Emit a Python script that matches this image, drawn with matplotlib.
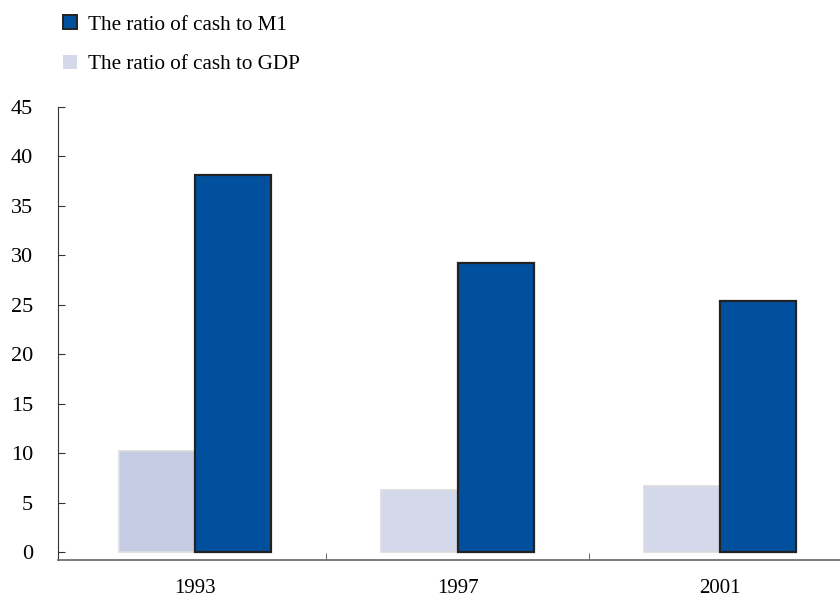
import matplotlib
matplotlib.use("Agg")
import matplotlib.pyplot as plt
from matplotlib.patches import Patch
import numpy as np

years = ["1993", "1997", "2001"]
cash_to_gdp = [10.2, 6.3, 6.7]
cash_to_m1 = [38.1, 29.2, 25.4]
gdp_colors = ["#c6cbe4", "#d3d8eb", "#d3d8eb"]
m1_color = "#00509e"

plt.rcParams['font.family'] = ['Liberation Serif', 'DejaVu Serif']

fig = plt.figure(figsize=(8.4, 5.97), dpi=100)
ax = fig.add_axes([58/840, 1-560/597, 1-58/840, (560-107)/597])

x = np.arange(len(years))
w = 0.29
ax.bar(x - w/2, cash_to_gdp, width=w, color=gdp_colors, edgecolor="#dcdcdc", linewidth=1.2, zorder=2)
ax.bar(x + w/2, cash_to_m1, width=w, color=m1_color, edgecolor="#222222", linewidth=1.6, zorder=3)

ax.set_xlim(-0.522, 2.457)
ax.set_ylim(-0.8, 45)
ax.set_yticks(np.arange(0, 46, 5))
ax.set_xticks(x)
ax.set_xticklabels(years)
ax.set_xticks([0.5, 1.5], minor=True)
ax.tick_params(axis='x', which='major', length=0, pad=14, labelsize=15)
ax.tick_params(axis='x', which='minor', direction='in', length=5, color="#555555")
ax.tick_params(axis='y', direction='in', length=5, color="#333333", pad=18, labelsize=16)

for s in ['top', 'right']:
    ax.spines[s].set_visible(False)
ax.spines['left'].set_color("#333333")
ax.spines['bottom'].set_color("#666666")
ax.spines['bottom'].set_linewidth(1.2)

handles = [Patch(facecolor=m1_color, edgecolor="#222222", linewidth=1.4, label="The ratio of cash to M1"),
           Patch(facecolor="#d3d8eb", edgecolor="none", label="The ratio of cash to GDP")]
fig.legend(handles=handles, loc='upper left', bbox_to_anchor=(63/840, 1-15/597), frameon=False,
           borderpad=0, borderaxespad=0,
           fontsize=15.2, handlelength=0.66, handleheight=0.66, handletextpad=0.52, labelspacing=0.95)

fig.savefig("out.png", dpi=100)
